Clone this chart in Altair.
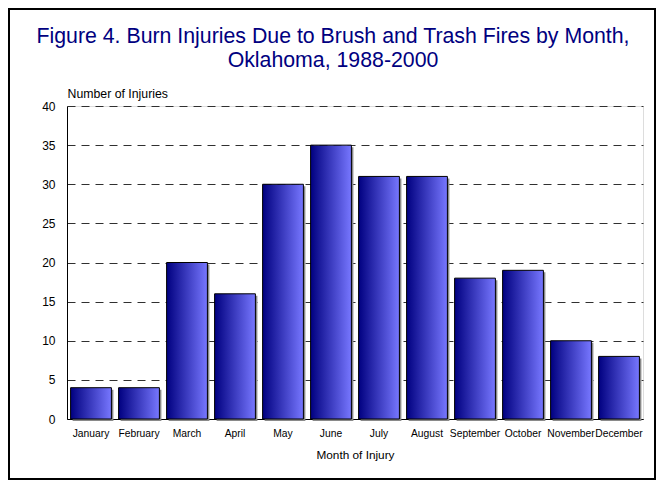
import altair as alt
import pandas as pd

months = ["January", "February", "March", "April", "May", "June", "July",
          "August", "September", "October", "November", "December"]
injuries = [4, 4, 20, 16, 30, 35, 31, 31, 18, 19, 10, 8]
title_lines = ["Figure 4. Burn Injuries Due to Brush and Trash Fires by Month,",
               "Oklahoma, 1988-2000"]
y_ticks = [0, 5, 10, 15, 20, 25, 30, 35, 40]

df = pd.DataFrame({"Month": months, "Injuries": injuries})

W, H = 576, 313
PL, PT, PR, PB = 59, 98, 13, 61
FONT = "Liberation Sans"

xenc = alt.X("Month:N", sort=months,
             scale=alt.Scale(paddingInner=0.15, paddingOuter=0.075),
             axis=alt.Axis(title="Month of Injury", labelAngle=0, labelFont=FONT,
                           labelFontSize=10.3, labelColor="black", ticks=False,
                           domainColor="black", domainWidth=1, labelPadding=9,
                           titlePadding=11, titleFont=FONT, titleFontSize=11.8,
                           titleFontWeight="normal", titleColor="black", grid=False))
yenc = alt.Y("Injuries:Q", scale=alt.Scale(domain=[0, 40]),
             axis=alt.Axis(values=y_ticks, title="Number of Injuries", titleAngle=0,
                           titleAlign="left", titleBaseline="alphabetic", titleX=0, titleY=-9,
                           titleFont=FONT, titleFontSize=12.3, titleFontWeight="normal",
                           titleColor="black", grid=True, gridDash=[8, 6],
                           gridColor="#303030", gridWidth=1, ticks=False, labelPadding=12,
                           labelFont=FONT, labelFontSize=12, labelColor="black",
                           domainColor="black", domainWidth=1))

base = alt.Chart(df)

shadow = base.mark_bar(color="#8a8a8a", xOffset=2, yOffset=2).encode(x=xenc, y=yenc)

grad = alt.Gradient(gradient="linear",
                    stops=[alt.GradientStop(color="#000080", offset=0),
                           alt.GradientStop(color="#7777ff", offset=1)],
                    x1=0, x2=1, y1=0, y2=0)
bars = base.mark_bar(color=grad, stroke="black", strokeWidth=1).encode(x=xenc, y=yenc)

one = pd.DataFrame({"k": [0]})
frame = alt.Chart(one).mark_rect(fillOpacity=0, stroke="black", strokeWidth=2).encode(
    x=alt.value(-PL + 1), x2=alt.value(W + PR - 1),
    y=alt.value(-PT + 1), y2=alt.value(H + PB - 1))

cx = 333 - 8 - PL
t1 = alt.Chart(one).mark_text(font=FONT, fontSize=21.3, color="#000080", align="center",
                              baseline="alphabetic").encode(
    x=alt.value(cx), y=alt.value(43 - 8 - PT), text=alt.value(title_lines[0]))
t2 = alt.Chart(one).mark_text(font=FONT, fontSize=21.3, color="#000080", align="center",
                              baseline="alphabetic").encode(
    x=alt.value(cx), y=alt.value(67 - 8 - PT), text=alt.value(title_lines[1]))

chart = alt.layer(shadow, bars, frame, t1, t2).properties(
    width=W, height=H,
    autosize=alt.AutoSizeParams(type="none"),
    padding={"left": PL, "top": PT, "right": PR, "bottom": PB},
).configure_view(stroke=None).configure(font=FONT, background="white")

chart.save("out.html", embed_options={"renderer": "svg", "actions": False})
